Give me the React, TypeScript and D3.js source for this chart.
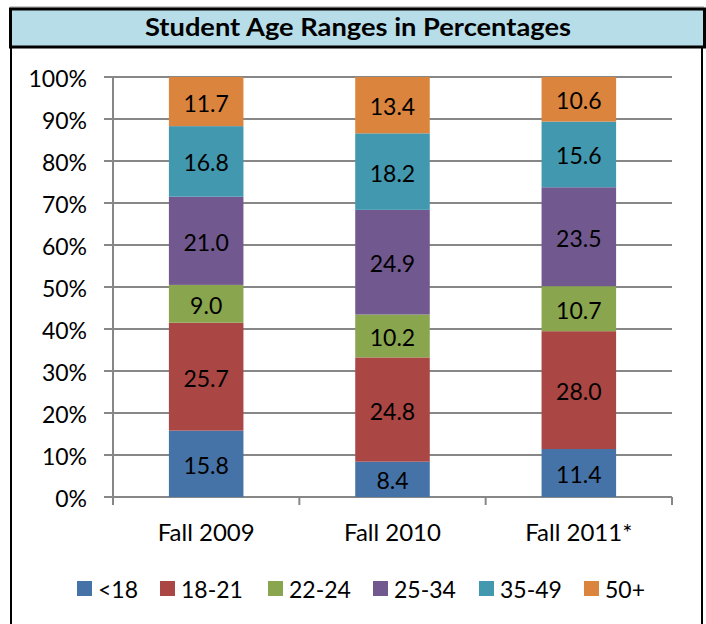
import React from "react";
import { scaleBand, scaleLinear, stack, stackOffsetExpand } from "d3";

const terms = ["Fall 2009", "Fall 2010", "Fall 2011*"];
const ageGroups = ["<18", "18-21", "22-24", "25-34", "35-49", "50+"];
const under18 = [15.8, 8.4, 11.4];
const age18to21 = [25.7, 24.8, 28.0];
const age22to24 = [9.0, 10.2, 10.7];
const age25to34 = [21.0, 24.9, 23.5];
const age35to49 = [16.8, 18.2, 15.6];
const age50plus = [11.7, 13.4, 10.6];
const yTicks = [0, 0.1, 0.2, 0.3, 0.4, 0.5, 0.6, 0.7, 0.8, 0.9, 1];
const colors = ["#4572A7", "#AA4643", "#89A54E", "#71588F", "#4198AF", "#DB843D"];

const seriesValues = [under18, age18to21, age22to24, age25to34, age35to49, age50plus];

const rows = terms.map((term, i) => {
  const row: any = { term };
  ageGroups.forEach((g, j) => (row[g] = seriesValues[j][i]));
  return row;
});

const font = "Lato, 'Open Sans', sans-serif";

export default function App() {
  const width = 706;
  const height = 624;
  const left = 113;
  const right = 672;
  const top = 77;
  const bottom = 497;

  const x = scaleBand().domain(terms).range([left, right]).paddingInner(0.6).paddingOuter(0.3);
  const y = scaleLinear().domain([0, 1]).range([bottom, top]);
  const layers = stack().keys(ageGroups).offset(stackOffsetExpand)(rows);
  const step = (right - left) / terms.length;

  const legendX = [77, 160, 268, 373, 479, 584];

  return (
    <svg
      width={width}
      height={height}
      style={{ position: "absolute", left: 0, top: 0 }}
      fontFamily={font}
    >
      <rect x={0} y={0} width={width} height={height} fill="#fff" />
      {/* outer frame */}
      <line x1={10} x2={704} y1={7} y2={7} stroke="#999" strokeWidth={1} />
      <line x1={11} x2={11} y1={8} y2={height} stroke="#000" strokeWidth={2} />
      <line x1={702} x2={702} y1={8} y2={height} stroke="#000" strokeWidth={2} />
      {/* title box */}
      <rect x={10.5} y={9} width={694} height={38} fill="#B7DDE8" stroke="#000" strokeWidth={3} />
      <text
        x={358}
        y={36}
        textAnchor="middle"
        fontSize={24}
        fontWeight="bold"
        textLength={426}
        lengthAdjust="spacingAndGlyphs"
      >
        Student Age Ranges in Percentages
      </text>

      {/* gridlines + y ticks */}
      {yTicks.map((t) => (
        <g key={t}>
          <line x1={104} x2={right} y1={y(t)} y2={y(t)} stroke="#878787" strokeWidth={2} />
          <text x={87} y={y(t) + 1} textAnchor="end" dominantBaseline="central" fontSize={23}>
            {Math.round(t * 100)}%
          </text>
        </g>
      ))}
      <line x1={left} x2={left} y1={top} y2={bottom + 8} stroke="#878787" strokeWidth={2} />
      {terms.map((_, i) => (
        <line
          key={i}
          x1={left + step * (i + 1)}
          x2={left + step * (i + 1)}
          y1={bottom}
          y2={bottom + 8}
          stroke="#878787"
          strokeWidth={2}
        />
      ))}

      {/* bars */}
      {layers.map((layer, j) => (
        <g key={layer.key} fill={colors[j]}>
          {layer.map((d, i) => (
            <rect
              key={i}
              x={x(terms[i])}
              y={y(d[1])}
              width={x.bandwidth()}
              height={y(d[0]) - y(d[1])}
            />
          ))}
        </g>
      ))}
      {layers.map((layer, j) =>
        layer.map((d, i) => (
          <text
            key={`${j}-${i}`}
            x={(x(terms[i]) as number) + x.bandwidth() / 2}
            y={(y(d[0]) + y(d[1])) / 2 + 1}
            textAnchor="middle"
            dominantBaseline="central"
            fontSize={23}
          >
            {seriesValues[j][i].toFixed(1)}
          </text>
        ))
      )}

      {/* category labels */}
      {terms.map((t) => (
        <text
          key={t}
          x={(x(t) as number) + x.bandwidth() / 2}
          y={531}
          textAnchor="middle"
          dominantBaseline="central"
          fontSize={24}
        >
          {t}
        </text>
      ))}

      {/* legend */}
      {ageGroups.map((g, j) => (
        <g key={g}>
          <rect x={legendX[j]} y={581} width={15} height={15} fill={colors[j]} />
          <text x={legendX[j] + 21} y={589} dominantBaseline="central" fontSize={23}>
            {g}
          </text>
        </g>
      ))}
    </svg>
  );
}
